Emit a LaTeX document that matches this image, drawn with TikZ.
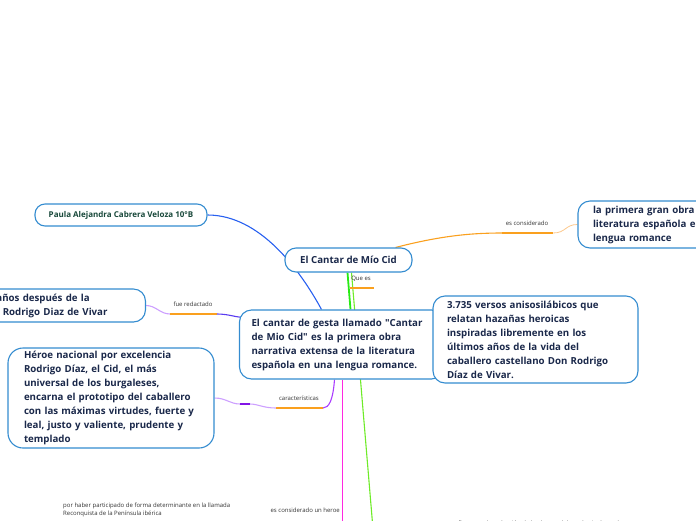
\documentclass[tikz,border=0pt]{standalone}
\usepackage{fontspec}
\setmainfont{Open Sans}
\usepackage{xcolor}
\usetikzlibrary{positioning, calc, backgrounds}

\definecolor{nodeblue}{RGB}{52,140,208}
\definecolor{navytext}{RGB}{26,40,74}
\definecolor{greentext}{RGB}{24,72,58}
\definecolor{linkblue}{RGB}{40,96,240}
\definecolor{linkorange}{RGB}{250,160,30}
\definecolor{paleorange}{RGB}{252,200,140}
\definecolor{linkgreen}{RGB}{40,235,20}
\definecolor{linklime}{RGB}{110,235,40}
\definecolor{heromagenta}{RGB}{255,40,225}
\definecolor{linkpurple}{RGB}{170,60,255}
\definecolor{palepurple}{RGB}{205,160,255}
\definecolor{darkpurple}{RGB}{130,20,230}
\definecolor{linkviolet}{RGB}{90,60,240}

\begin{document}
\begin{tikzpicture}[x=1pt, y=-1pt,
  topicnode/.style={draw=nodeblue, line width=1.1pt, fill=white, rounded corners=12pt, text=navytext, font=\fontsize{9.7}{14}\selectfont\bfseries, align=left, inner ysep=0pt},
  linklabel/.style={font=\fontsize{6}{8}\selectfont, text=black!80, inner sep=0pt},
  link/.style={line width=1.1pt},
  underline/.style={draw=linkorange, line width=1.6pt}
]
\useasboundingbox (0,0) rectangle (696,520);

% Main topics
\node[topicnode, font=\fontsize{9.7}{11}\selectfont\bfseries, align=center, minimum width=127, minimum height=24, rounded corners=11pt] (cantar) at (348.5,260) {El Cantar de Mío Cid};
\node[topicnode, text=greentext, font=\fontsize{8}{9}\selectfont\bfseries, align=center, minimum width=172, minimum height=22, rounded corners=10pt] (paula) at (121,215) {Paula Alejandra Cabrera Veloza 10°B};
\node[topicnode, minimum height=69, text width=180, inner xsep=12] (central) at (341.5,344.5) {El cantar de gesta llamado \textquotedbl Cantar\\ de Mio Cid\textquotedbl{} es la primera obra\\ narrativa extensa de la literatura\\ española en una lengua romance.};
\node[topicnode, minimum height=47, text width=155, inner xsep=15] (primera) at (670.5,224.5) {la primera gran obra de la\\ literatura española en una\\ lengua romance};
\node[topicnode, minimum height=33, text width=183, inner xsep=14, anchor=east] (muerte) at (146,305.5) {Cuarenta años después de la\\ muerte de Rodrigo Diaz de Vivar};
\node[topicnode, minimum height=87, text width=177, inner xsep=14] (versos) at (535.5,339.5) {3.735 versos anisosilábicos que\\ relatan hazañas heroicas\\ inspiradas libremente en los\\ últimos años de la vida del\\ caballero castellano Don Rodrigo\\ Díaz de Vivar.};
\node[topicnode, minimum height=100, text width=174, inner xsep=16, rounded corners=15pt] (heroe) at (111,398) {Héroe nacional por excelencia\\ Rodrigo Díaz, el Cid, el más\\ universal de los burgaleses,\\ encarna el prototipo del caballero\\ con las máximas virtudes, fuerte y\\ leal, justo y valiente, prudente y\\ templado};

% Link labels
\node[linklabel] (lcons) at (527,223) {es considerado};
\node[linklabel] (lquees) at (361,279) {Que es};
\node[linklabel] (lredact) at (193,304) {fue redactado};
\node[linklabel] (lcaract) at (299,398) {características};
\node[linklabel, anchor=east] (lconsheroe) at (340,510) {es considerado un heroe};
\node[linklabel, anchor=north west, align=left] (reconq) at (63,503) {por haber participado de forma determinante en la llamada\\ Reconquista de la Península ibérica};
\node[linklabel, anchor=west] (afirma) at (447,524) {se afirma que la redacción de la obra se debe a dos juglares de};

\coordinate (lcons-l) at (502,233);
\coordinate (lcons-r) at (553,233);
\coordinate (lquees-l) at (350,288);
\coordinate (lquees-r) at (374,288);
\coordinate (lredact-l) at (170,314);
\coordinate (lredact-r) at (217,314);
\coordinate (lcaract-l) at (276,408);
\coordinate (lcaract-r) at (323,408);
\coordinate (mark-l) at (240,404);
\coordinate (mark-r) at (250,404);
\coordinate (heroe-end) at (342.5,530);
\coordinate (afirma-end) at (373.5,535);

% Connectors
\begin{scope}[on background layer]
\draw[link, draw=linkblue] ([xshift=-20]central.north) .. controls (300,270) and (260,215) .. (paula.east);
\draw[link, draw=linkorange] ([xshift=-17]cantar.north east) .. controls (440,236) and (470,233) .. (lcons-l);
\draw[underline] (lcons-l) -- (lcons-r);
\draw[link, draw=paleorange, line width=0.8pt] (lcons-r) .. controls (566,233) and (565,224.5) .. (primera.west);
\draw[link, draw=linklime] ([xshift=3]cantar.south) -- (afirma-end);
\draw[link, draw=linkgreen, line width=1.8pt] ([xshift=-1]cantar.south) -- ([xshift=9]central.north);
\draw[underline] (lquees-l) -- (lquees-r);
\draw[draw=heromagenta, line width=1.6pt] ([xshift=1]central.south) -- (heroe-end);
\draw[link, draw=linkpurple] ([xshift=-7]central.south) .. controls (333,400) and (329,408) .. (lcaract-r);
\draw[underline] (lcaract-l) -- (lcaract-r);
\draw[link, draw=palepurple] (lcaract-l) .. controls (263,408) and (258,404) .. (mark-r) -- (mark-l) .. controls (230,404) and (226,398) .. (heroe.east);
\draw[draw=darkpurple, line width=1.6pt] (mark-l) -- (mark-r);
\draw[link, draw=palepurple] (muerte.east) .. controls (156,305.5) and (160,314) .. (lredact-l);
\draw[underline] (lredact-l) -- (lredact-r);
\draw[link, draw=linkviolet] (lredact-r) .. controls (228,314) and (235,317) .. ($(central.west)+(4,-27)$);
\end{scope}
\end{tikzpicture}
\end{document}
